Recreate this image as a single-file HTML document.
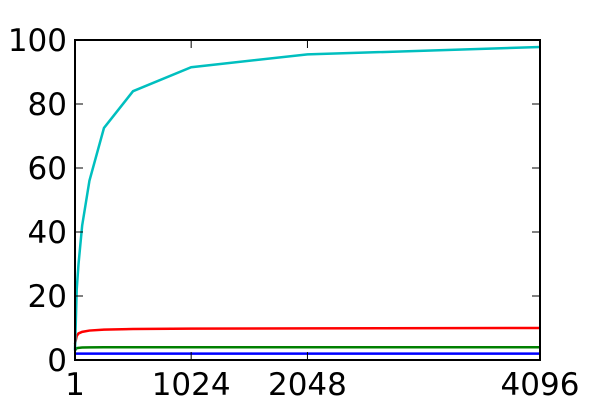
<!DOCTYPE html>
<html><head><meta charset="utf-8"><style>body{margin:0;background:#fff}svg{display:block}</style></head>
<body>
<svg id="c" width="600" height="400" font-family="DejaVu Sans, Liberation Sans, sans-serif"></svg>
<script>
const xs = [1,16,32,64,128,256,512,1024,2048,4096];
const cyan = [3,22,30,42,56,72.5,84,91.5,95.5,97.8];
const red = [5,7.5,8.3,8.8,9.2,9.5,9.7,9.8,9.9,10];
const green = [3,3.7,3.8,3.9,3.95,4,4,4,4,4];
const blue = [2,2,2,2,2,2,2,2,2,2];
const xTicks = [1,1024,2048,4096];
const yTicks = [0,20,40,60,80,100];
const L=75,R=540,T=40,B=360;
const X=v=>L+(v-1)/(4095)*(R-L);
const Y=v=>B-v/100*(B-T);
const svg=document.getElementById('c');
const NS='http://www.w3.org/2000/svg';
function mk(t,a){const e=document.createElementNS(NS,t);for(const k in a)e.setAttribute(k,a[k]);svg.appendChild(e);return e;}
function series(vals,col,name){
  const p=mk('polyline',{points:xs.map((x,i)=>X(x)+','+Y(vals[i])).join(' '),fill:'none',stroke:col,'stroke-width':2.5});
  
  
}
series(blue,'#0000ff','series-blue');
series(green,'#008000','series-green');
series(red,'#ff0000','series-red');
series(cyan,'#00bfbf','series-cyan');
const fr=mk('rect',{x:L,y:T,width:R-L,height:B-T,fill:'none',stroke:'#000','stroke-width':2});


yTicks.forEach(v=>{
  mk('line',{x1:L,x2:L+8,y1:Y(v),y2:Y(v),stroke:'#000'});
  mk('line',{x1:R,x2:R-8,y1:Y(v),y2:Y(v),stroke:'#000'});
  const t=mk('text',{x:L-8,y:Y(v)+11,'text-anchor':'end','font-size':31});
  t.textContent=v;
  
  
});
xTicks.forEach(v=>{
  mk('line',{x1:X(v),x2:X(v),y1:B,y2:B-8,stroke:'#000'});
  mk('line',{x1:X(v),x2:X(v),y1:T,y2:T+8,stroke:'#000'});
  const t=mk('text',{x:X(v),y:B+35,'text-anchor':'middle','font-size':31});
  t.textContent=v;
  
  
});
</script>
</body></html>
